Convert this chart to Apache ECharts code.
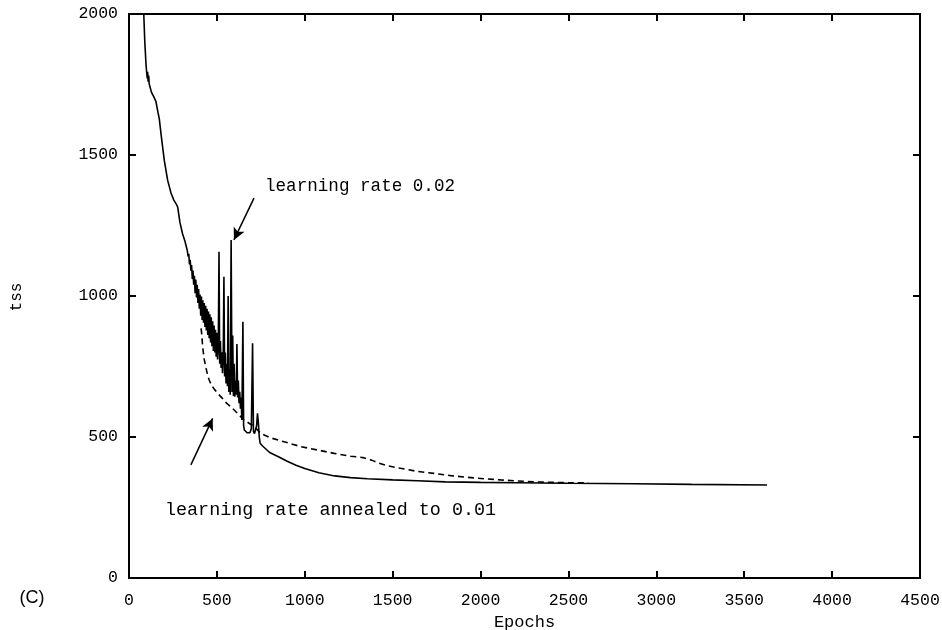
<!DOCTYPE html>
<html>
<head>
<meta charset="utf-8">
<script src="https://cdn.jsdelivr.net/npm/echarts@6/dist/echarts.min.js"></script>
<style>
  html, body { margin: 0; padding: 0; background: #fff; }
  #main { width: 942px; height: 630px; }
</style>
</head>
<body>
<div id="main"></div>
<script>
// x ticks / y ticks
const xTicks = [0, 500, 1000, 1500, 2000, 2500, 3000, 3500, 4000, 4500];
const yTicks = [0, 500, 1000, 1500, 2000];

// learning rate 0.02 run (solid)
const solidEpochs = [
  84, 90, 97, 101, 104, 106, 109, 112, 115, 120, 128, 140, 153, 165, 172, 185, 201, 220, 239, 255,
  270, 277, 290, 305, 318, 328,
  332, 336, 340, 344, 348, 352, 356, 360, 364, 368, 372, 376, 380, 384, 388, 392, 396, 400, 404, 408,
  412, 416, 420, 424, 428, 432, 436, 440, 444, 448, 452, 456, 460, 464, 468, 472, 476, 480, 484, 488,
  492, 496, 500, 504,
  508, 512, 516, 520, 524, 528, 532, 536, 540, 544, 548, 552, 556, 560, 564, 568, 572, 576, 581, 586,
  590, 594, 598, 602, 606, 610, 614, 618, 622, 626, 630, 634, 638, 642, 648, 652, 656, 664, 672, 680,
  688, 696, 703, 708, 714, 720, 726, 731, 736, 741, 746, 760, 800, 850, 900, 950, 1000, 1080, 1170, 1260,
  1356, 1500, 1640, 1800, 2000, 2200, 2492, 2871, 3200, 3630
];
const solidTss = [
  2000, 1900, 1819, 1790, 1772, 1795, 1760, 1782, 1752, 1745, 1722, 1708, 1690, 1650, 1630, 1560, 1480, 1410, 1365, 1340,
  1325, 1315, 1260, 1220, 1195, 1170,
  1160, 1140, 1150, 1112, 1128, 1090, 1110, 1060, 1090, 1040, 1072, 1010, 1058, 995, 1040, 975, 1025, 955, 1005, 930,
  998, 915, 985, 905, 975, 890, 965, 878, 955, 862, 945, 850, 935, 835, 925, 822, 910, 805, 895, 800,
  880, 785, 870, 775,
  820, 1157, 760, 840, 745, 800, 726, 780, 1068, 715, 800, 690, 760, 680, 1000, 660, 740, 650, 1199, 660,
  860, 645, 760, 643, 700, 650, 830, 640, 700, 620, 660, 600, 640, 560, 909, 540, 525, 518, 515, 520,
  515, 530, 832, 520, 512, 515, 540, 584, 550, 500, 478, 468, 445, 430, 414, 400, 388, 373, 362, 356,
  352, 348, 345, 341, 339, 338, 336, 334, 332, 330
];

// learning rate annealed to 0.01 (dashed)
const dashedEpochs = [
  410, 413, 419, 428, 438, 447, 456, 470, 487, 504, 530, 555, 580, 620, 655, 685, 712, 750, 800, 882,
  977, 1072, 1167, 1261, 1330, 1380, 1413, 1470, 1545, 1640, 1735, 1830, 1924, 2020, 2114, 2210, 2303, 2420, 2500, 2614
];
const dashedTss = [
  885, 870, 820, 775, 745, 720, 702, 683, 668, 655, 638, 620, 607, 582, 560, 548, 537, 513, 498, 483,
  466, 454, 442, 432, 427, 418, 409, 398, 389, 378, 371, 363, 357, 352, 348, 344, 341, 339, 338, 337
];

const solidData = solidEpochs.map((e, i) => [e, solidTss[i]]);
const dashedData = dashedEpochs.map((e, i) => [e, dashedTss[i]]);

const chart = echarts.init(document.getElementById('main'));

const tickFont = { color: '#000', fontFamily: 'Liberation Mono', fontSize: 16.5, formatter: v => String(v) };
const axisLine = { show: true, onZero: false, lineStyle: { color: '#000', width: 2 } };
const axisTick = { show: true, inside: true, length: 7, lineStyle: { color: '#000', width: 2 } };

const xBase = { type: 'value', min: xTicks[0], max: xTicks[xTicks.length - 1], interval: 500, splitLine: { show: false }, axisLine, axisTick };
const yBase = { type: 'value', min: yTicks[0], max: yTicks[yTicks.length - 1], interval: 500, splitLine: { show: false }, axisLine, axisTick };

const option = {
  animation: false,
  backgroundColor: '#fff',
  grid: { left: 129, right: 22, top: 14, bottom: 52, containLabel: false, outerBoundsMode: 'none' },
  xAxis: [
    Object.assign({}, xBase, {
      position: 'bottom',
      axisLabel: Object.assign({ margin: 14 }, tickFont),
      name: 'Epochs',
      nameLocation: 'middle',
      nameGap: 32,
      nameTextStyle: { color: '#000', fontFamily: 'Liberation Mono', fontSize: 17 }
    }),
    Object.assign({}, xBase, { position: 'top', axisLabel: { show: false } })
  ],
  yAxis: [
    Object.assign({}, yBase, { position: 'left', axisLabel: Object.assign({ margin: 11 }, tickFont) }),
    Object.assign({}, yBase, { position: 'right', axisLabel: { show: false } })
  ],
  graphic: [
    { type: 'text', x: 265, y: 186, style: { text: 'learning rate 0.02', fontFamily: 'Liberation Mono', fontSize: 17.6, fill: '#000', verticalAlign: 'middle' } },
    { type: 'text', x: 165, y: 510, style: { text: 'learning rate annealed to 0.01', fontFamily: 'Liberation Mono', fontSize: 18.4, fill: '#000', verticalAlign: 'middle' } },
    { type: 'text', x: 32, y: 598, style: { text: '(C)', fontFamily: 'Liberation Sans', fontSize: 18, fill: '#000', align: 'center', verticalAlign: 'middle' } },
    { type: 'text', x: 17, y: 297, rotation: Math.PI / 2, style: { text: 'tss', fontFamily: 'Liberation Mono', fontSize: 16, fill: '#000', align: 'center', verticalAlign: 'middle' } }
  ],
  series: [
    {
      name: 'learning rate 0.02',
      type: 'line',
      data: solidData,
      showSymbol: false,
      clip: true,
      lineStyle: { color: '#000', width: 1.6 },
      markLine: {
        silent: true,
        symbol: ['none', 'arrow'],
        symbolSize: [9, 12],
        label: { show: false },
        lineStyle: { color: '#000', type: 'solid', width: 1.5 },
        data: [
          [{ coord: [711, 1347] }, { coord: [597, 1199] }],
          [{ coord: [352, 401] }, { coord: [476, 566] }]
        ]
      }
    },
    {
      name: 'learning rate annealed to 0.01',
      type: 'line',
      data: dashedData,
      showSymbol: false,
      clip: true,
      lineStyle: { color: '#000', width: 1.6, type: [6, 4] }
    }
  ]
};

chart.setOption(option);
</script>
</body>
</html>
